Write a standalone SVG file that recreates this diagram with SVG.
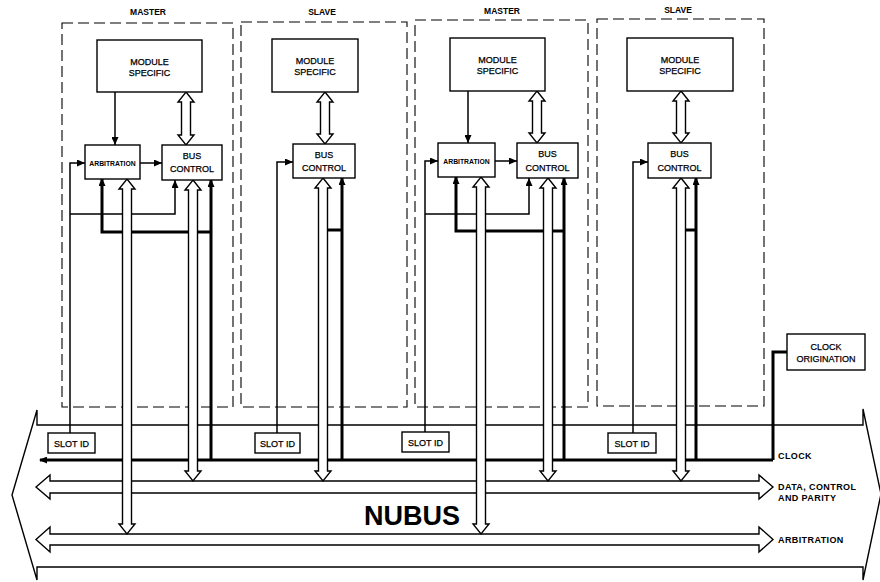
<svg xmlns="http://www.w3.org/2000/svg" width="880" height="582" viewBox="0 0 880 582">
<style>
text{font-family:"Liberation Sans",Arial,sans-serif;fill:#000;text-anchor:middle}
.hdr{font-size:8.5px;font-weight:bold}
.box{fill:#fff;stroke:#000;stroke-width:1.4}
.dash{fill:none;stroke:#000;stroke-width:1.1;stroke-dasharray:11 5}
.lbl{font-size:9px;stroke:#000;stroke-width:0.25}
.arb{font-size:6.8px;font-weight:bold}
.side{font-size:9px;font-weight:bold;text-anchor:start;letter-spacing:0.4px}
.thin{fill:none;stroke:#000;stroke-width:1.5}
.thick{fill:none;stroke:#000;stroke-width:3}
.hollow{fill:#fff;stroke:#000;stroke-width:1.4;stroke-linejoin:miter}
.nub{font-size:27px;font-weight:bold}
</style>
<defs>
<marker id="ah" markerWidth="8" markerHeight="7" refX="8" refY="3.5" orient="auto" markerUnits="userSpaceOnUse"><path d="M0,0 L8,3.5 L0,7 z" fill="#000"/></marker>
<marker id="ahk" markerWidth="8" markerHeight="7" refX="7" refY="3.5" orient="auto" markerUnits="userSpaceOnUse"><path d="M0,0 L8,3.5 L0,7 z" fill="#000"/></marker>
</defs>

<g id="module1-frame"><rect class="dash" x="62" y="23" width="171" height="384"/><text class="hdr" x="148" y="15">MASTER</text></g>
<g id="module2-frame"><rect class="dash" x="241" y="22" width="166" height="385"/><text class="hdr" x="322" y="15">SLAVE</text></g>
<g id="module3-frame"><rect class="dash" x="415" y="20" width="173" height="387"/><text class="hdr" x="502" y="14">MASTER</text></g>
<g id="module4-frame"><rect class="dash" x="597" y="19" width="167" height="387"/><text class="hdr" x="678" y="13">SLAVE</text></g>

<g id="nubus">
<path class="box" d="M37,410 V425 H863 V409 L881,494 L863,580 V567 H37 V580 L12,495 Z"/>
<text class="nub" x="412" y="525">NUBUS</text>
<text class="side" x="778" y="459">CLOCK</text>
<text class="side" x="778" y="490">DATA, CONTROL</text>
<text class="side" x="778" y="501">AND PARITY</text>
<text class="side" x="778" y="543">ARBITRATION</text>
</g>

<g id="connectors">
<path class="hollow" d="M36,487 L50,475 L50,481 L759,481 L759,475 L773,487 L759,499 L759,493 L50,493 L50,499 Z"/>
<path class="hollow" d="M36,539.5 L50,527 L50,534 L759,534 L759,527 L773,539.5 L759,552 L759,545 L50,545 L50,552 Z"/>
<path class="thick" d="M773,460 H40" marker-end="url(#ahk)"/>
<path class="thick" d="M773,460 V352 H787"/>

<path class="thin" d="M115,92 V145" marker-end="url(#ah)"/>
<path class="thin" d="M140,163 H162" marker-end="url(#ah)"/>
<path class="thin" d="M70,433 V163 H85" marker-end="url(#ah)"/>
<path class="thin" d="M70,214 H175 V180" marker-end="url(#ah)"/>
<path class="thick" d="M211,460 V180" marker-end="url(#ahk)"/>
<path class="thick" d="M211,232 H102 V179" marker-end="url(#ahk)"/>

<path class="thin" d="M277,433 V162 H293" marker-end="url(#ah)"/>
<path class="thick" d="M342,460 V178" marker-end="url(#ahk)"/>
<path class="thick" d="M326,230 H342"/>

<path class="thin" d="M468,91 V143" marker-end="url(#ah)"/>
<path class="thin" d="M495,161 H517" marker-end="url(#ah)"/>
<path class="thin" d="M425,432 V161 H438" marker-end="url(#ah)"/>
<path class="thin" d="M425,214 H529 V178" marker-end="url(#ah)"/>
<path class="thick" d="M564,460 V178" marker-end="url(#ahk)"/>
<path class="thick" d="M564,231 H456 V177" marker-end="url(#ahk)"/>

<path class="thin" d="M633,433 V162 H648" marker-end="url(#ah)"/>
<path class="thick" d="M696,460 V178" marker-end="url(#ahk)"/>
<path class="thick" d="M684,230 H696"/>

<path class="hollow" d="M186,92 L194,102 L190.5,102 L190.5,135 L194,135 L186,145 L178,135 L181.5,135 L181.5,102 L178,102 Z"/>
<path class="hollow" d="M127,179 L135,189 L131.5,189 L131.5,524 L135,524 L127,534 L119,524 L122.5,524 L122.5,189 L119,189 Z"/>
<path class="hollow" d="M193,180 L201,190 L197.5,190 L197.5,471 L201,471 L193,481 L185,471 L188.5,471 L188.5,190 L185,190 Z"/>
<path class="hollow" d="M325,92 L333,102 L329.5,102 L329.5,134 L333,134 L325,144 L317,134 L320.5,134 L320.5,102 L317,102 Z"/>
<path class="hollow" d="M323,178 L331,188 L327.5,188 L327.5,471 L331,471 L323,481 L315,471 L318.5,471 L318.5,188 L315,188 Z"/>
<path class="hollow" d="M537,91 L545,101 L541.5,101 L541.5,133 L545,133 L537,143 L529,133 L532.5,133 L532.5,101 L529,101 Z"/>
<path class="hollow" d="M481,177 L489,187 L485.5,187 L485.5,524 L489,524 L481,534 L473,524 L476.5,524 L476.5,187 L473,187 Z"/>
<path class="hollow" d="M548,178 L556,188 L552.5,188 L552.5,471 L556,471 L548,481 L540,471 L543.5,471 L543.5,188 L540,188 Z"/>
<path class="hollow" d="M681,91 L689,101 L685.5,101 L685.5,133 L689,133 L681,143 L673,133 L676.5,133 L676.5,101 L673,101 Z"/>
<path class="hollow" d="M681,178 L689,188 L685.5,188 L685.5,471 L689,471 L681,481 L673,471 L676.5,471 L676.5,188 L673,188 Z"/>
</g>

<g id="ms1"><rect class="box" x="97" y="40" width="105" height="52"/><text class="lbl" x="149.5" y="64.5">MODULE</text><text class="lbl" x="149.5" y="76">SPECIFIC</text></g>
<g id="arb1"><rect class="box" x="85" y="145" width="55" height="34"/><text class="arb" x="112.5" y="166">ARBITRATION</text></g>
<g id="bc1"><rect class="box" x="162" y="145" width="60" height="35"/><text class="lbl" x="192" y="158.5">BUS</text><text class="lbl" x="192" y="172">CONTROL</text></g>
<g id="slot1"><rect class="box" x="48" y="433" width="47" height="20"/><text class="lbl" x="71.5" y="446.5">SLOT ID</text></g>

<g id="ms2"><rect class="box" x="272" y="39" width="86" height="53"/><text class="lbl" x="315" y="63.5">MODULE</text><text class="lbl" x="315" y="75">SPECIFIC</text></g>
<g id="bc2"><rect class="box" x="293" y="144" width="62" height="34"/><text class="lbl" x="324" y="157.5">BUS</text><text class="lbl" x="324" y="171">CONTROL</text></g>
<g id="slot2"><rect class="box" x="255" y="433" width="45" height="20"/><text class="lbl" x="277.5" y="446.5">SLOT ID</text></g>

<g id="ms3"><rect class="box" x="450" y="38" width="95" height="53"/><text class="lbl" x="497.5" y="62.5">MODULE</text><text class="lbl" x="497.5" y="74">SPECIFIC</text></g>
<g id="arb3"><rect class="box" x="438" y="143" width="57" height="34"/><text class="arb" x="466.5" y="164">ARBITRATION</text></g>
<g id="bc3"><rect class="box" x="517" y="143" width="61" height="35"/><text class="lbl" x="547.5" y="157">BUS</text><text class="lbl" x="547.5" y="170.5">CONTROL</text></g>
<g id="slot3"><rect class="box" x="402" y="432" width="47" height="20"/><text class="lbl" x="425.5" y="445.5">SLOT ID</text></g>

<g id="ms4"><rect class="box" x="627" y="38" width="106" height="53"/><text class="lbl" x="680" y="62.5">MODULE</text><text class="lbl" x="680" y="74">SPECIFIC</text></g>
<g id="bc4"><rect class="box" x="648" y="143" width="63" height="35"/><text class="lbl" x="679.5" y="157">BUS</text><text class="lbl" x="679.5" y="170.5">CONTROL</text></g>
<g id="slot4"><rect class="box" x="608" y="433" width="48" height="20"/><text class="lbl" x="632" y="446.5">SLOT ID</text></g>

<g id="clockorig"><rect class="box" x="787" y="334" width="78" height="36"/><text class="lbl" x="826" y="349.5">CLOCK</text><text class="lbl" x="826" y="361.5">ORIGINATION</text></g>
</svg>
